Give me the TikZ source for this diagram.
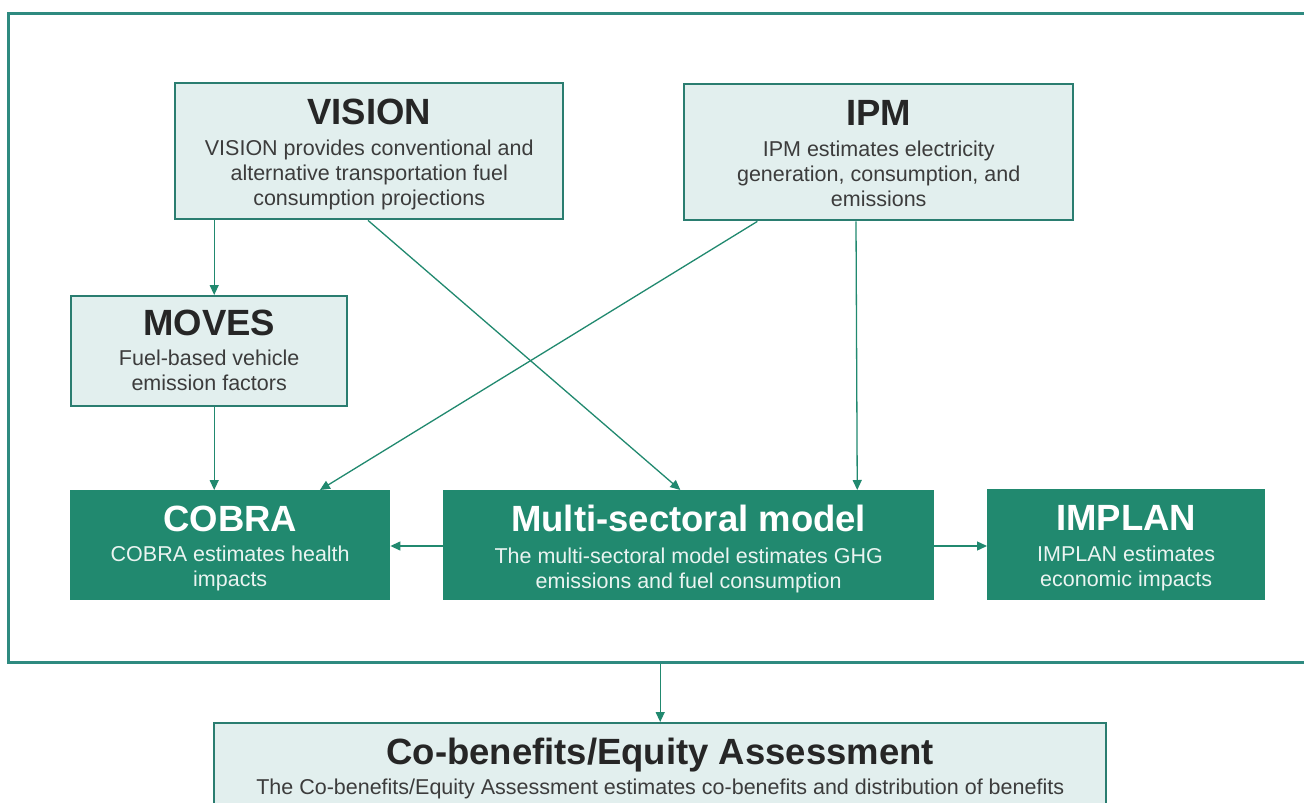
\documentclass[tikz,border=0pt]{standalone}
\usepackage{fontspec}
\setmainfont{Liberation Sans}
\usetikzlibrary{arrows.meta,calc}
\definecolor{tealdark}{HTML}{21896F}
\definecolor{lightfill}{HTML}{E2EFEE}
\definecolor{borderteal}{HTML}{2A7D70}
\definecolor{frameteal}{HTML}{2E8A80}
\definecolor{txtdark}{HTML}{262626}
\definecolor{txtbody}{HTML}{3C3C3C}
\definecolor{txtlight}{HTML}{EAF4F1}
\tikzset{
  box/.style={anchor=north west, inner sep=0pt},
  lbox/.style={box, draw=borderteal, fill=lightfill, line width=2.4pt},
  gbox/.style={box, fill=tealdark},
  ltxt/.style={anchor=north, inner sep=0pt, align=center, text=txtbody,
    font=\fontsize{21.5}{25}\selectfont},
  gtxt/.style={ltxt, text=txtlight},
  conn/.style={draw=tealdark, line width=1.3pt, -{Triangle[length=10pt,width=9pt]}}
}
\newcommand{\ltitle}[1]{\rule{0pt}{30pt}{\fontsize{36.5}{40}\selectfont\bfseries\color{txtdark}#1}}
\newcommand{\gtitle}[1]{\rule{0pt}{30pt}{\fontsize{36.5}{40}\selectfont\bfseries\color{white}#1}}
\begin{document}
\begin{tikzpicture}[x=1pt,y=-1pt]
\path[use as bounding box] (0,0) rectangle (1304,803);
\clip (0,0) rectangle (1304,803);
\fill[white] (0,0) rectangle (1304,803);
\node[anchor=north west, inner sep=0pt, draw=frameteal, line width=2.5pt,
  minimum width=1320pt, minimum height=649pt] (frame) at (7,12) {};
% boxes
\node[lbox, minimum width=388pt, minimum height=136pt] (vision) at (174,82) {};
\node[lbox, minimum width=389pt, minimum height=136pt] (ipm) at (683,83) {};
\node[lbox, minimum width=276pt, minimum height=110pt] (moves) at (70,295) {};
\node[gbox, minimum width=320pt, minimum height=110pt] (cobra) at (70,490) {};
\node[gbox, minimum width=491pt, minimum height=110pt] (multi) at (443,490) {};
\node[gbox, minimum width=278pt, minimum height=111pt] (implan) at (987,489) {};
\node[lbox, minimum width=892pt, minimum height=100pt] (cob) at (213,722) {};
% texts (title baseline = top + offset + 30)
\node[ltxt] (visiontxt) at ($(vision.north)+(0,12)$)
  {\ltitle{VISION}\\[6pt]VISION provides conventional and\\alternative transportation fuel\\consumption projections};
\node[ltxt] (ipmtxt) at ($(ipm.north)+(0,12)$)
  {\ltitle{IPM}\\[6pt]IPM estimates electricity\\generation, consumption, and\\emissions};
\node[ltxt] (movestxt) at ($(moves.north)+(0,10)$)
  {\ltitle{MOVES}\\[5pt]Fuel-based vehicle\\emission factors};
\node[gtxt] (cobratxt) at ($(cobra.north)+(0,11)$)
  {\gtitle{COBRA}\\[5pt]COBRA estimates health\\impacts};
\node[gtxt] (multitxt) at ($(multi.north)+(0,11)$)
  {\gtitle{Multi-sectoral model}\\[7pt]The multi-sectoral model estimates GHG\\emissions and fuel consumption};
\node[gtxt] (implantxt) at ($(implan.north)+(0,11)$)
  {\gtitle{IMPLAN}\\[6pt]IMPLAN estimates\\economic impacts};
\node[ltxt] (cobtxt) at ($(cob.north)+(0,12)$)
  {\ltitle{Co-benefits/Equity Assessment}\\[5pt]The Co-benefits/Equity Assessment estimates co-benefits and distribution of benefits};
% connectors
\draw[conn] ([xshift=5pt]moves.north |- vision.south) -- ([xshift=5pt]moves.north);
\draw[conn] ([xshift=5pt]moves.south) -- ([xshift=5pt]moves.south |- cobra.north);
\draw[conn] ($(vision.south west)!0.497!(vision.south east)$) -- ($(multi.north west)!0.483!(multi.north east)$);
\draw[conn] ($(ipm.south west)!0.19!(ipm.south east)$) -- ($(cobra.north west)!0.78!(cobra.north east)$);
\draw[conn] ($(ipm.south west)!0.442!(ipm.south east)$) -- ($(multi.north west)!0.843!(multi.north east)$);
\draw[conn] (multi.west |- 0,546) -- (cobra.east |- 0,546);
\draw[conn] (multi.east |- 0,546) -- (implan.west |- 0,546);
\draw[conn] (cob.north |- frame.south) -- (cob.north);
\end{tikzpicture}
\end{document}
